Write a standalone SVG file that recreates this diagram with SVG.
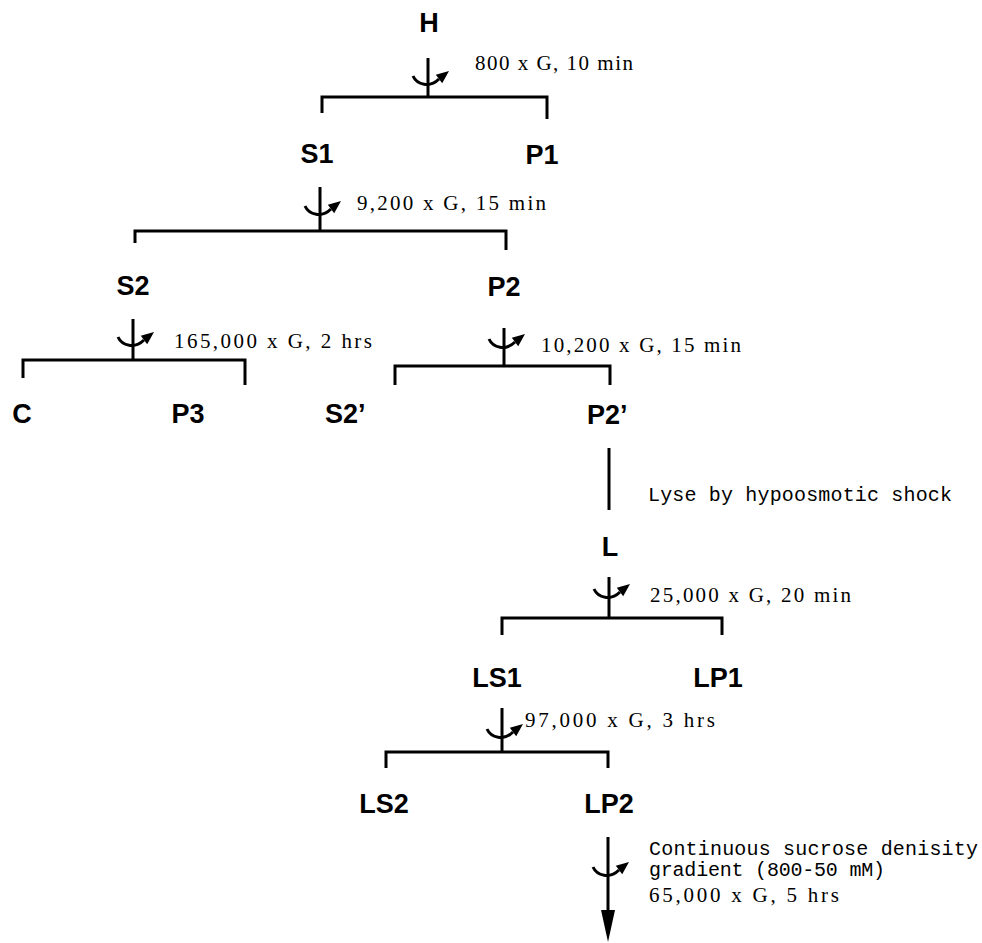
<svg xmlns="http://www.w3.org/2000/svg" xmlns:xlink="http://www.w3.org/1999/xlink" width="982" height="943" viewBox="0 0 982 943">
  <style>
    .lbl { font-family: "Liberation Sans", Arial, sans-serif; font-weight: bold; font-size: 27px; fill: #000; }
    .cond { font-family: "Liberation Serif", "Times New Roman", serif; font-size: 21px; fill: #000; }
    .mono { font-family: "Liberation Mono", "Courier New", monospace; font-size: 20px; fill: #000; }
    .ln { fill: none; stroke: #000; stroke-width: 3; stroke-linecap: butt; stroke-linejoin: miter; }
  </style>
  <defs>
    <g id="curl">
      <path d="M-15,-6 C-11,3 2,6 11,-3" fill="none" stroke="#000" stroke-width="3"/>
      <polygon points="21,-11 14.2,1.2 7.8,-7.2" fill="#000"/>
    </g>
  </defs>
  <rect width="982" height="943" fill="#fff"/>

  <g id="connectors">
    <!-- H -> S1 / P1 -->
    <line class="ln" x1="428" y1="58" x2="428" y2="98"/>
    <path class="ln" d="M322,113 V97 H547 V119"/>
    <use xlink:href="#curl" href="#curl" x="428" y="82"/>
    <!-- S1 -> S2 / P2 -->
    <line class="ln" x1="320" y1="187" x2="320" y2="232"/>
    <path class="ln" d="M135,243 V231 H506 V250"/>
    <use xlink:href="#curl" href="#curl" x="320" y="212"/>
    <!-- S2 -> C / P3 -->
    <line class="ln" x1="133" y1="319" x2="133" y2="361"/>
    <path class="ln" d="M23,378 V360 H245 V385"/>
    <use xlink:href="#curl" href="#curl" x="133" y="343"/>
    <!-- P2 -> S2' / P2' -->
    <line class="ln" x1="504" y1="328" x2="504" y2="367"/>
    <path class="ln" d="M395,385 V366 H610 V385"/>
    <use xlink:href="#curl" href="#curl" x="504" y="345"/>
    <!-- P2' -> L (lyse) -->
    <line class="ln" x1="609" y1="448" x2="609" y2="510"/>
    <!-- L -> LS1 / LP1 -->
    <line class="ln" x1="609" y1="577" x2="609" y2="618"/>
    <path class="ln" d="M502,635 V618 H722 V635"/>
    <use xlink:href="#curl" href="#curl" x="609" y="595"/>
    <!-- LS1 -> LS2 / LP2 -->
    <line class="ln" x1="502" y1="708" x2="502" y2="752"/>
    <path class="ln" d="M386,768 V752 H608 V768"/>
    <use xlink:href="#curl" href="#curl" x="502" y="735"/>
    <!-- LP2 -> gradient -->
    <line class="ln" x1="608" y1="837" x2="608" y2="914"/>
    <polygon points="601,910 615,910 608,942" fill="#000"/>
    <use xlink:href="#curl" href="#curl" x="608" y="873"/>
  </g>

  <g id="conditions">
    <text class="cond" x="475" y="70" textLength="158" lengthAdjust="spacing">800 x G, 10 min</text>
    <text class="cond" x="357" y="210" textLength="189" lengthAdjust="spacing">9,200 x G, 15 min</text>
    <text class="cond" x="174" y="348" textLength="198" lengthAdjust="spacing">165,000 x G, 2 hrs</text>
    <text class="cond" x="541" y="352" textLength="200" lengthAdjust="spacing">10,200 x G, 15 min</text>
    <text class="mono" x="648" y="501" textLength="304" lengthAdjust="spacing">Lyse by hypoosmotic shock</text>
    <text class="cond" x="650" y="602" textLength="201" lengthAdjust="spacing">25,000 x G, 20 min</text>
    <text class="cond" x="525" y="727" textLength="190" lengthAdjust="spacing">97,000 x G, 3 hrs</text>
    <text class="mono" x="649" y="855" textLength="329" lengthAdjust="spacing">Continuous sucrose denisity</text>
    <text class="mono" x="649" y="876" textLength="236" lengthAdjust="spacing">gradient (800-50 mM)</text>
    <text class="cond" x="649" y="902" font-size="19" textLength="190" lengthAdjust="spacing">65,000 x G, 5 hrs</text>
  </g>

  <g id="node-H"><text class="lbl" x="429" y="32" text-anchor="middle">H</text></g>
  <g id="node-S1"><text class="lbl" x="317" y="163" text-anchor="middle">S1</text></g>
  <g id="node-P1"><text class="lbl" x="542" y="164" text-anchor="middle">P1</text></g>
  <g id="node-S2"><text class="lbl" x="133" y="295" text-anchor="middle">S2</text></g>
  <g id="node-P2"><text class="lbl" x="504" y="296" text-anchor="middle">P2</text></g>
  <g id="node-C"><text class="lbl" x="22" y="423" text-anchor="middle">C</text></g>
  <g id="node-P3"><text class="lbl" x="188" y="423" text-anchor="middle">P3</text></g>
  <g id="node-S2p"><text class="lbl" x="325" y="423">S2’</text></g>
  <g id="node-P2p"><text class="lbl" x="587" y="424">P2’</text></g>
  <g id="node-L"><text class="lbl" x="610" y="556" text-anchor="middle">L</text></g>
  <g id="node-LS1"><text class="lbl" x="497" y="687" text-anchor="middle">LS1</text></g>
  <g id="node-LP1"><text class="lbl" x="718" y="687" text-anchor="middle">LP1</text></g>
  <g id="node-LS2"><text class="lbl" x="384" y="813" text-anchor="middle">LS2</text></g>
  <g id="node-LP2"><text class="lbl" x="609" y="813" text-anchor="middle">LP2</text></g>
</svg>
